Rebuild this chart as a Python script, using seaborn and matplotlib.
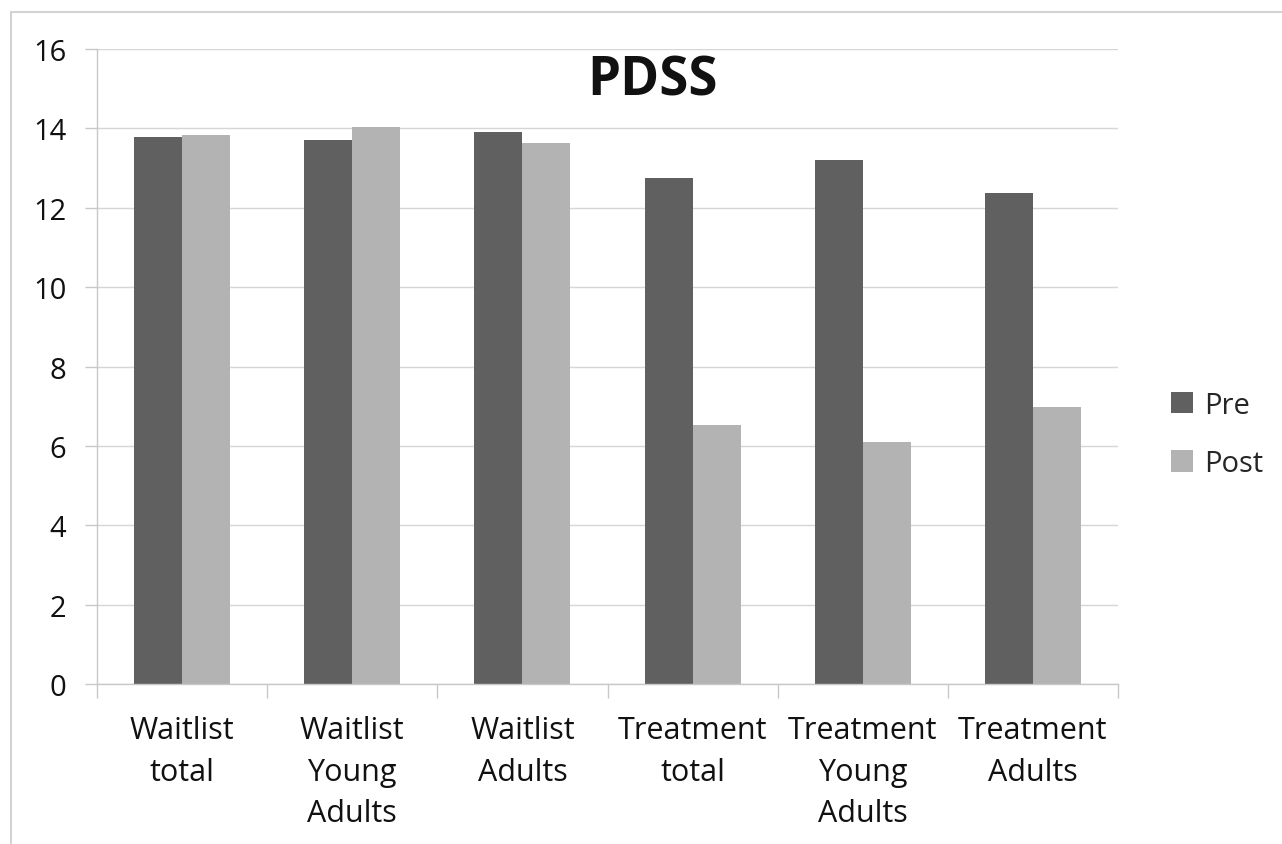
import matplotlib
matplotlib.use("Agg")
import matplotlib.pyplot as plt
import seaborn as sns
import pandas as pd
import numpy as np

categories = ["Waitlist\ntotal", "Waitlist\nYoung\nAdults", "Waitlist\nAdults",
              "Treatment\ntotal", "Treatment\nYoung\nAdults", "Treatment\nAdults"]
pre_values = [13.78, 13.71, 13.91, 12.75, 13.20, 12.37]
post_values = [13.83, 14.03, 13.63, 6.53, 6.10, 6.98]
series_names = ["Pre", "Post"]
yticks = [0, 2, 4, 6, 8, 10, 12, 14, 16]

df = pd.DataFrame({
    "group": categories * 2,
    "phase": [series_names[0]] * len(categories) + [series_names[1]] * len(categories),
    "score": pre_values + post_values,
})

sns.set_theme(style="white")
plt.rcParams["font.family"] = ["Open Sans", "DejaVu Sans"]

fig = plt.figure(figsize=(12.82, 8.45), dpi=100)
ax = fig.add_axes([97 / 1282, 1 - 685 / 845, (1118 - 97) / 1282, (685 - 50) / 845])

sns.barplot(data=df, x="group", y="score", hue="phase", order=categories,
            hue_order=series_names, palette=["#606060", "#b3b3b3"],
            width=0.565, saturation=1, linewidth=0, ax=ax, legend=True)

ax.set_ylim(0, 16)
ax.set_xlim(-0.5, len(categories) - 0.5)
ax.set_yticks(yticks)
ax.yaxis.grid(True, color="#d6d6d6", linewidth=1)
ax.set_axisbelow(True)
ax.set_xlabel("")
ax.set_ylabel("")

for side in ["top", "right"]:
    ax.spines[side].set_visible(False)
for side in ["left", "bottom"]:
    ax.spines[side].set_color("#c8c8c8")
    ax.spines[side].set_linewidth(1)

ax.tick_params(axis="y", which="major", length=9, width=1, color="#c8c8c8",
               labelsize=21, pad=13, left=True, labelcolor="#111111")
ax.tick_params(axis="x", which="major", length=0, labelsize=22, pad=22,
               labelcolor="#111111")
ax.set_xticks(np.arange(-0.5, len(categories)), minor=True)
ax.tick_params(axis="x", which="minor", length=10, width=1, color="#c8c8c8",
               bottom=True)
for lbl in ax.get_xticklabels():
    lbl.set_linespacing(1.52)
    lbl.set_verticalalignment("top")

ax.set_title("PDSS", fontsize=38, fontweight="bold", x=0.5436, y=0.915,
             color="#111111")

handles, labels = ax.get_legend_handles_labels()
ax.legend(handles, labels, loc="center left", bbox_to_anchor=(1.026, 0.393),
          frameon=False, fontsize=21, handlelength=0.75, handleheight=0.75,
          handletextpad=0.4, labelspacing=1.0)

# outer frame around the chart area
frame = plt.Rectangle((11 / 1282, -0.1), 1.2, 1 - 13 / 845 + 0.1,
                      transform=fig.transFigure, fill=False,
                      edgecolor="#d3d3d3", linewidth=1.5)
fig.patches.append(frame)

fig.savefig("out.png", dpi=100)
